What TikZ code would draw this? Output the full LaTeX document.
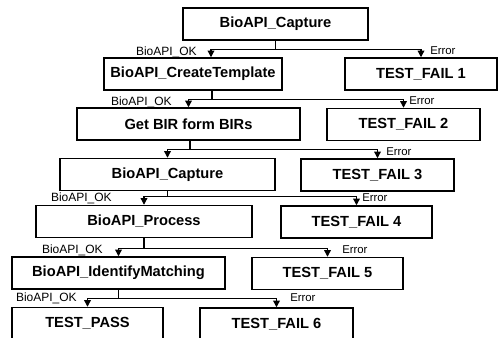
\documentclass[tikz,border=0pt]{standalone}
\usepackage{fontspec}
\setmainfont{Liberation Sans}
\usetikzlibrary{arrows.meta,calc}

\tikzset{
  box/.style={draw, line width=1.1pt, inner sep=0pt, minimum height=24pt,
    font=\bfseries\fontsize{11}{13}\selectfont},
  wd/.style={minimum width=#1*0.75pt},
  flow/.style={line width=0.9pt, -{Triangle[length=5pt,width=5pt]}},
  oklbl/.style={anchor=east, inner sep=0pt, font=\fontsize{9}{10}\selectfont},
  errlbl/.style={anchor=west, inner sep=0pt, font=\fontsize{8.5}{9}\selectfont}
}

\begin{document}
\begin{tikzpicture}[x=0.75pt, y=-0.75pt]
    \useasboundingbox (0,0) rectangle (499,338);
    \clip (0,0) rectangle (499,338);
    % the steps
    \node[box, wd=185] (capture1) at (275.5,24) {BioAPI\_Capture};
    \node[box, wd=178] (create) at (193,74) {BioAPI\_CreateTemplate};
    \node[box, wd=223] (getbir) at (188.5,124) {Get BIR form BIRs};
    \node[box, wd=215] (capture2) at (167.5,174.5) {BioAPI\_Capture};
    \node[box, wd=216] (process) at (144,221.5) {BioAPI\_Process};
    \node[box, wd=213] (identify) at (118.5,273) {BioAPI\_IdentifyMatching};
    \node[box, wd=151] (pass) at (87.5,323.5) {TEST\_PASS};
    % the failures
    \node[box, wd=152] (fail1) at (421,74) {TEST\_FAIL 1};
    \node[box, wd=153] (fail2) at (403.5,124.5) {TEST\_FAIL 2};
    \node[box, wd=153] (fail3) at (377.5,175) {TEST\_FAIL 3};
    \node[box, wd=151] (fail4) at (356.5,222) {TEST\_FAIL 4};
    \node[box, wd=151] (fail5) at (327.5,273.5) {TEST\_FAIL 5};
    \node[box, wd=153] (fail6) at (276.5,324) {TEST\_FAIL 6};
    \foreach \from/\sx/\ok/\ox/\err in {capture1/0/create/18/fail1, create/19/getbir/0/fail2,
        getbir/1.5/capture2/0/fail3, capture2/0/process/0/fail4,
        process/0/identify/0/fail5, identify/0/pass/0/fail6}
    {
      \coordinate (in) at ($(\ok.north)+(\ox,0)$);
      \coordinate (stem) at ($(\from.south)+(\sx,0)$);
      \coordinate (split) at ($(stem |- in)+(0,-8)$);
      \draw[line width=0.9pt] (stem) -- (split);
      \draw[flow] (split) -| (in);
      \draw[flow] (split) -| (\err.north);
    }
    \node[oklbl] (ok1) at (197,52) {BioAPI\_OK};
    \node[errlbl] (err1) at (430,51) {Error};
    \node[oklbl] (ok2) at (172,102) {BioAPI\_OK};
    \node[errlbl] (err2) at (409,101) {Error};
    \node[errlbl] (err3) at (386,152) {Error};
    \node[oklbl] (ok4) at (112,198) {BioAPI\_OK};
    \node[errlbl] (err4) at (362,198) {Error};
    \node[oklbl] (ok5) at (103,250) {BioAPI\_OK};
    \node[errlbl] (err5) at (342,250) {Error};
    \node[oklbl] (ok6) at (77,298) {BioAPI\_OK};
    \node[errlbl] (err6) at (290,298) {Error};
  \end{tikzpicture}
\end{document}
